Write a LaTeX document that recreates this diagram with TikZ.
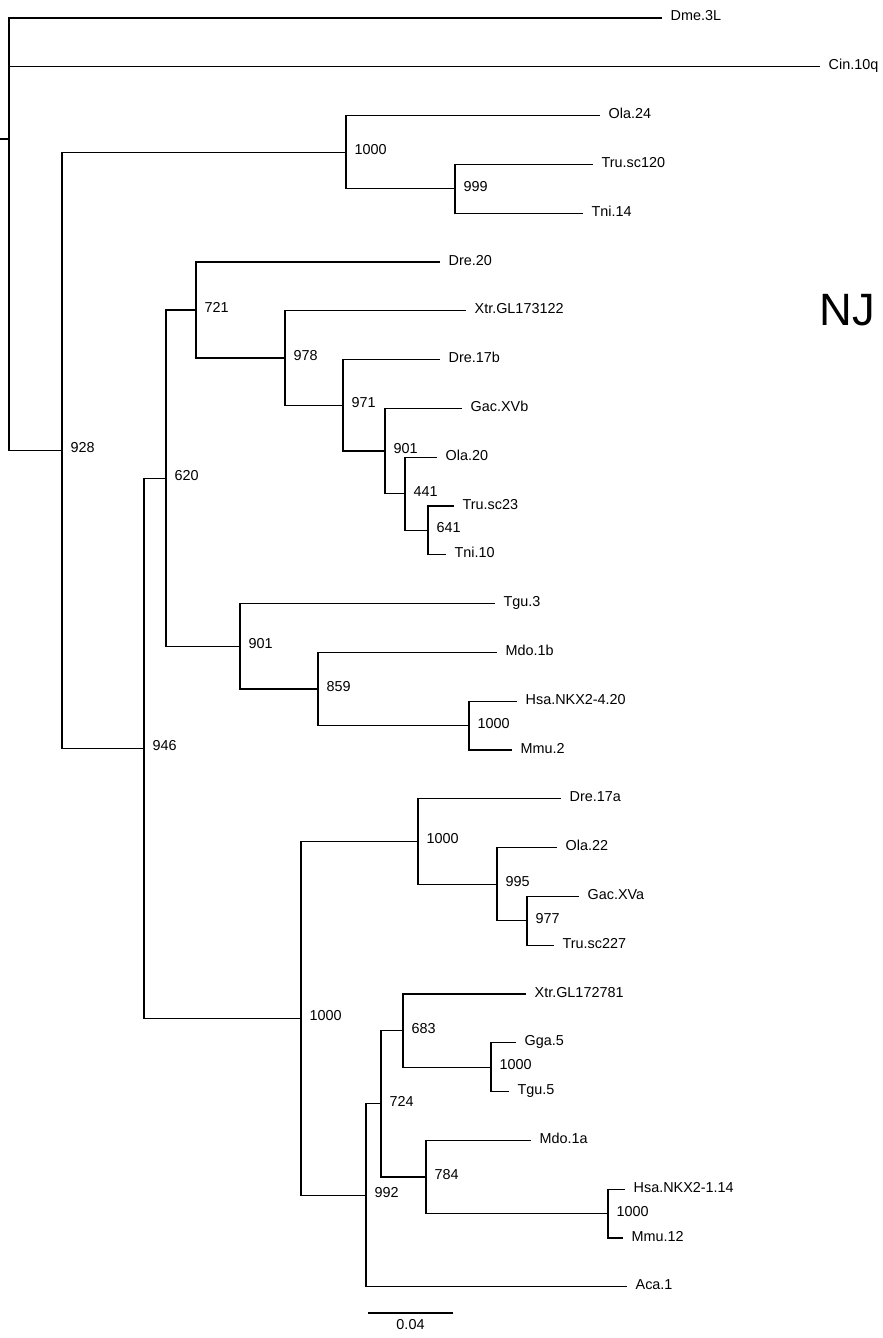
\documentclass[tikz,border=0pt]{standalone}
\usepackage{fontspec}
\setmainfont{Liberation Sans}
\usepackage{tikz}

\begin{document}
\begin{tikzpicture}[x=0.75pt, y=-0.75pt, line width=1pt,
    leaf/.style = {anchor=base west, inner sep=0pt, xshift=6pt, yshift=-2.25pt, font=\fontsize{10.8}{13}\selectfont},
    boot/.style = {anchor=base west, inner sep=0pt, xshift=6pt, yshift=-1.8pt, font=\fontsize{10.8}{13}\selectfont}]
        \useasboundingbox (0,0) rectangle (882,1338);
        % tips of the leaves
        \foreach \i/\xe/\txt in {0/662/Dme.3L, 1/820/Cin.10q, 2/600/Ola.24, 3/593/Tru.sc120, 4/583/Tni.14,
            5/440/Dre.20, 6/466/Xtr.GL173122, 7/440/Dre.17b, 8/462/Gac.XVb, 9/437/Ola.20, 10/454/Tru.sc23,
            11/446/Tni.10, 12/495/Tgu.3, 13/497/Mdo.1b, 14/517/Hsa.NKX2-4.20, 15/512/Mmu.2, 16/561/Dre.17a,
            17/557/Ola.22, 18/579/Gac.XVa, 19/554/Tru.sc227, 20/526/Xtr.GL172781, 21/516/Gga.5, 22/509/Tgu.5,
            23/531/Mdo.1a, 24/625/Hsa.NKX2-1.14, 25/623/Mmu.12, 26/627/Aca.1}{
            \coordinate (t\i) at (\xe, 18+48.8*\i);
            \node[leaf] (l\i) at (t\i) {\txt};
        }
        % inner nodes
        \coordinate (root) at (9,139);
        \coordinate (origin) at (0,139);
        \coordinate (n928) at (62,450.25);
        \coordinate (n1000a) at (346,152.2);
        \coordinate (n999) at (455,188.8);
        \coordinate (n946) at (144,748.3);
        \coordinate (n620) at (166,478.17);
        \coordinate (n721) at (196,310.04);
        \coordinate (n978) at (285,358.08);
        \coordinate (n971) at (343,405.35);
        \coordinate (n901a) at (385,451.1);
        \coordinate (n441) at (405,493.8);
        \coordinate (n641) at (428,530.4);
        \coordinate (n901b) at (240,646.3);
        \coordinate (n859) at (318,689);
        \coordinate (n1000b) at (469,725.6);
        \coordinate (n1000c) at (301,1018.4);
        \coordinate (n1000d) at (418,841.5);
        \coordinate (n995) at (497,884.2);
        \coordinate (n977) at (527,920.8);
        \coordinate (n992) at (366,1195.3);
        \coordinate (n724) at (381,1103.8);
        \coordinate (n683) at (403,1030.6);
        \coordinate (n1000e) at (491,1067.2);
        \coordinate (n784) at (426,1177);
        \coordinate (n1000f) at (608,1213.6);
        % branches
        \draw (origin) -- (root);
        \draw (t0) -| (root) |- (n928);
        \draw (root |- t1) -- (t1);
        \draw (n1000a) -| (n928) |- (n946);
        \draw (t2) -| (n1000a) |- (n999);
        \draw (t3) -| (n999) |- (t4);
        \draw (n620) -| (n946) |- (n1000c);
        \draw (n721) -| (n620) |- (n901b);
        \draw (t5) -| (n721) |- (n978);
        \draw (t6) -| (n978) |- (n971);
        \draw (t7) -| (n971) |- (n901a);
        \draw (t8) -| (n901a) |- (n441);
        \draw (t9) -| (n441) |- (n641);
        \draw (t10) -| (n641) |- (t11);
        \draw (t12) -| (n901b) |- (n859);
        \draw (t13) -| (n859) |- (n1000b);
        \draw (t14) -| (n1000b) |- (t15);
        \draw (n1000d) -| (n1000c) |- (n992);
        \draw (t16) -| (n1000d) |- (n995);
        \draw (t17) -| (n995) |- (n977);
        \draw (t18) -| (n977) |- (t19);
        \draw (n724) -| (n992) |- (t26);
        \draw (n683) -| (n724) |- (n784);
        \draw (t20) -| (n683) |- (n1000e);
        \draw (t21) -| (n1000e) |- (t22);
        \draw (t23) -| (n784) |- (n1000f);
        \draw (t24) -| (n1000f) |- (t25);
        % bootstrap values
        \foreach \n/\v in {n928/928, n1000a/1000, n999/999, n946/946, n620/620, n721/721, n978/978,
            n971/971, n901a/901, n441/441, n641/641, n901b/901, n859/859, n1000b/1000, n1000c/1000,
            n1000d/1000, n995/995, n977/977, n992/992, n724/724, n683/683, n1000e/1000, n784/784, n1000f/1000}{
            \node[boot] (b\n) at (\n) {\v};
        }
        % scale bar
        \coordinate (sb0) at (368,1313);
        \coordinate (sb1) at (453,1313);
        \draw (sb0) -- (sb1) node[midway, below=4pt, inner sep=0pt, font=\fontsize{10.8}{13}\selectfont] (sbl) {0.04};
        \node[font=\fontsize{34}{40}\selectfont] (nj) at (847,310) {NJ};
    \end{tikzpicture}
\end{document}
